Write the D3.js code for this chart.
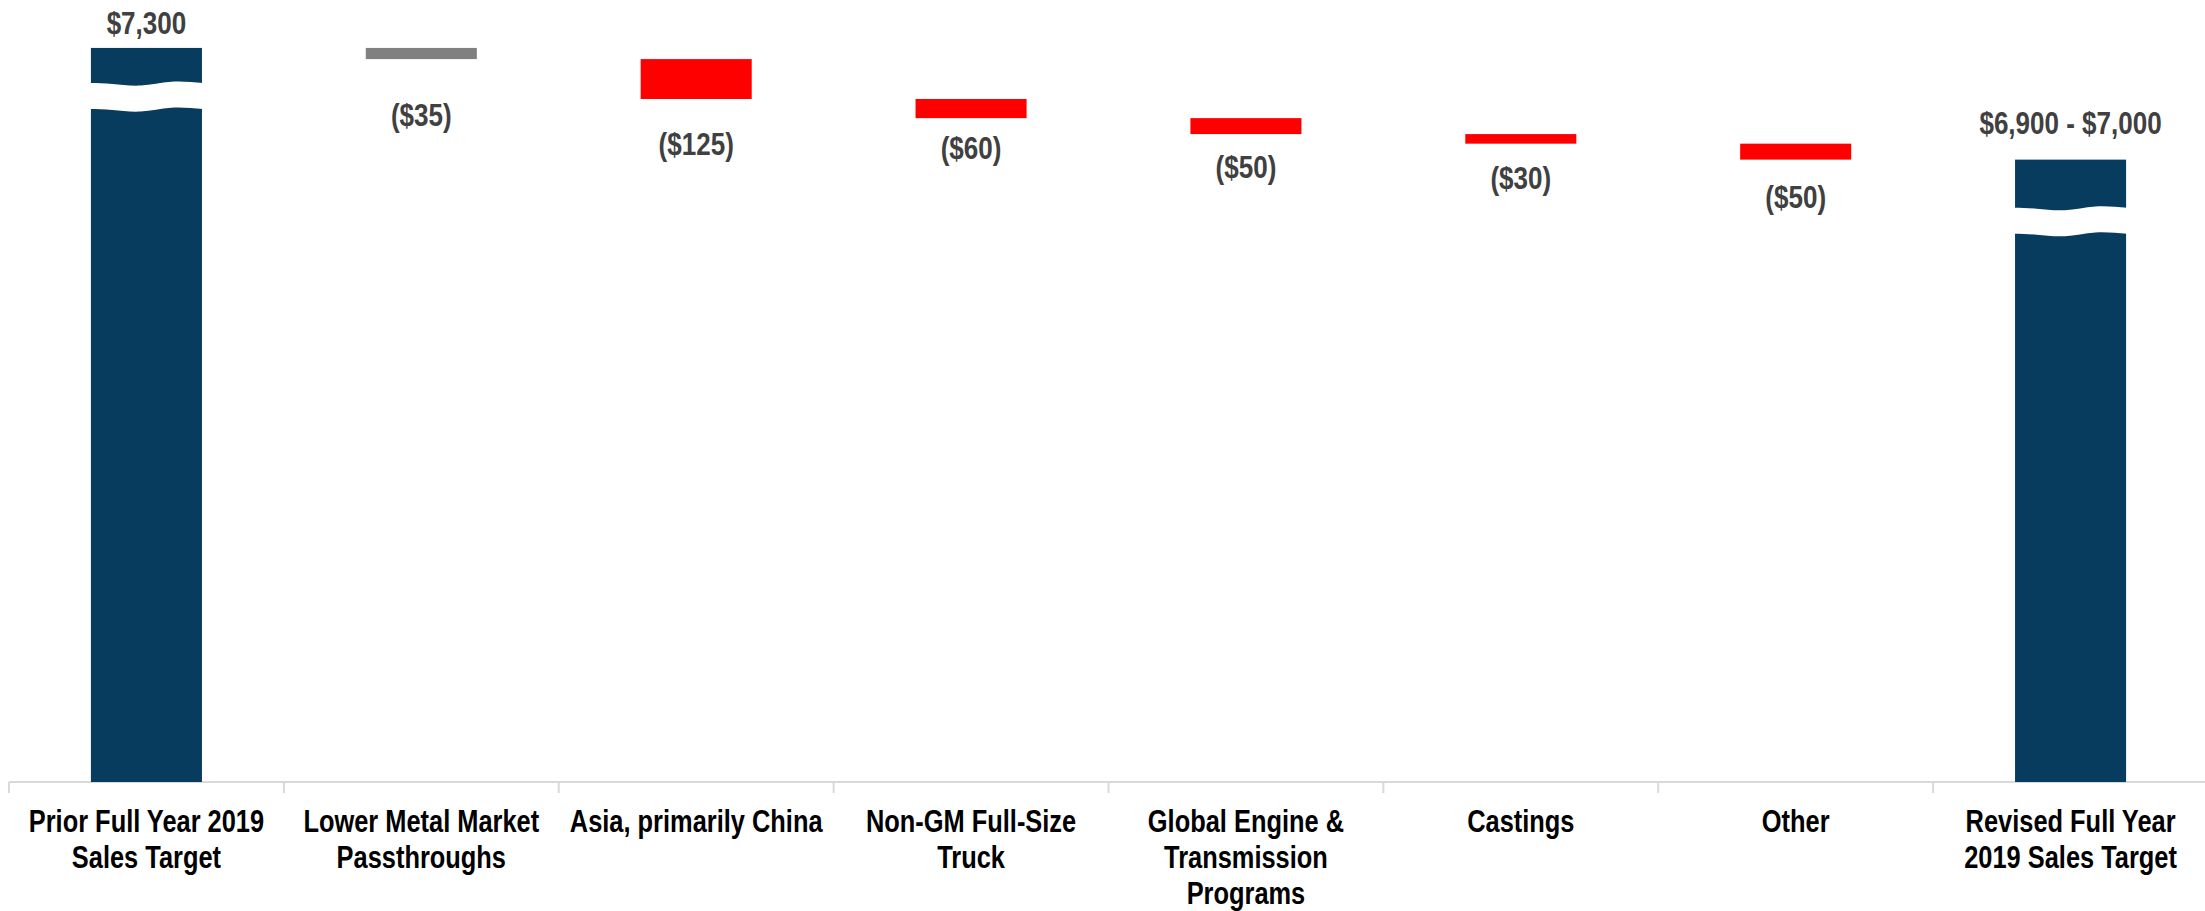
<!DOCTYPE html>
<html>
<head>
<meta charset="utf-8">
<script src="https://cdn.jsdelivr.net/npm/d3@7"></script>
<style>
  body { margin: 0; background: #fff; }
  svg text { font-family: "Liberation Sans", Arial, sans-serif; font-weight: bold; }
</style>
</head>
<body>
<script>
(function() {
  "use strict";
  // data ($ millions)
  const categories = [
    "Prior Full Year 2019\nSales Target",
    "Lower Metal Market\nPassthroughs",
    "Asia, primarily China",
    "Non-GM Full-Size\nTruck",
    "Global Engine &\nTransmission\nPrograms",
    "Castings",
    "Other",
    "Revised Full Year\n2019 Sales Target"
  ];
  const startValue = 7300;
  const changes = [-35, -125, -60, -50, -30, -50];
  const endRange = [6900, 7000];

  const W = 2205, H = 911;
  const NAVY = "#073c5f", RED = "#ff0000", GREY = "#808080";
  const LABEL = "#404040";

  // build waterfall steps
  let run = startValue;
  const steps = [{ cat: categories[0], y0: 5000, y1: startValue, type: "total",
                   label: "$" + d3.format(",")(startValue) }];
  changes.forEach((c, i) => {
    steps.push({ cat: categories[i + 1], y0: run + c, y1: run, type: i === 0 ? "grey" : "neg",
                 label: "($" + d3.format(",")(-c) + ")" });
    run += c;
  });
  const endMid = (endRange[0] + endRange[1]) / 2;
  steps.push({ cat: categories[7], y0: 5000, y1: endMid, type: "total",
               label: endRange.map(v => "$" + d3.format(",")(v)).join(" - ") });

  const svg = d3.select("body").append("svg").attr("width", W).attr("height", H);

  const x = d3.scaleBand().domain(categories).range([9, 2208]).padding(0);
  const y = d3.scaleLinear().domain([5000, 7400]).range([782, 16]);
  const barW = x.bandwidth() * 0.404;
  const bx = d => x(d.cat) + (x.bandwidth() - barW) / 2;

  // axis line + category separators
  const axisY = y(5000);
  svg.append("line").attr("x1", 9).attr("x2", W).attr("y1", axisY).attr("y2", axisY)
    .attr("stroke", "#d9d9d9").attr("stroke-width", 2);
  svg.selectAll("line.tick").data(categories).enter().append("line")
    .attr("class", "tick")
    .attr("x1", d => x(d)).attr("x2", d => x(d))
    .attr("y1", axisY).attr("y2", axisY + 11)
    .attr("stroke", "#d9d9d9").attr("stroke-width", 2);

  // bars
  const color = t => t === "total" ? NAVY : t === "grey" ? GREY : RED;
  svg.selectAll("rect.bar").data(steps).enter().append("rect")
    .attr("class", "bar")
    .attr("x", bx).attr("width", barW)
    .attr("y", d => y(d.y1))
    .attr("height", d => y(d.y0) - y(d.y1))
    .attr("fill", d => color(d.type));

  // axis-break bands on the total bars
  const breakOffset = [48, 61], bandH = 26;
  const wave = [[0, 0], [0.2, 1], [0.45, 2.6], [0.72, -1.2], [1, 0.2]];
  const line = d3.line().curve(d3.curveNatural);
  steps.filter(d => d.type === "total").forEach((d, i) => {
    const x0 = bx(d), top = y(d.y1) + breakOffset[i] - bandH / 2;
    const upper = wave.map(p => [x0 - 1 + p[0] * (barW + 2), top + p[1]]);
    const lower = wave.map(p => [x0 - 1 + p[0] * (barW + 2), top + bandH + p[1]]).reverse();
    svg.append("path")
      .attr("d", line(upper) + "L" + line(lower).slice(1) + "Z")
      .attr("fill", "#fff");
  });

  // value labels
  const labelDy = [-14, 57, 46, 31, 34, 35, 38, -26];
  svg.selectAll("text.val").data(steps).enter().append("text")
    .attr("class", "val")
    .attr("transform", (d, i) => {
      const cx = x(d.cat) + x.bandwidth() / 2;
      const yy = d.type === "total" ? y(d.y1) + labelDy[i] : y(d.y0) + labelDy[i] + 10;
      return "translate(" + cx + "," + yy + ") scale(0.84,1)";
    })
    .attr("text-anchor", "middle")
    .attr("font-size", 31)
    .attr("fill", LABEL)
    .text(d => d.label);

  // category labels
  const cat = svg.selectAll("g.cat").data(categories).enter().append("g")
    .attr("class", "cat")
    .attr("transform", d => "translate(" + (x(d) + x.bandwidth() / 2) + ",832) scale(0.82,1)");
  cat.each(function(d) {
    const t = d3.select(this).append("text").attr("text-anchor", "middle")
      .attr("font-size", 31).attr("fill", "#000");
    d.split("\n").forEach((s, i) => {
      t.append("tspan").attr("x", 0).attr("y", i * 36).text(s);
    });
  });
}());
</script>
</body>
</html>
